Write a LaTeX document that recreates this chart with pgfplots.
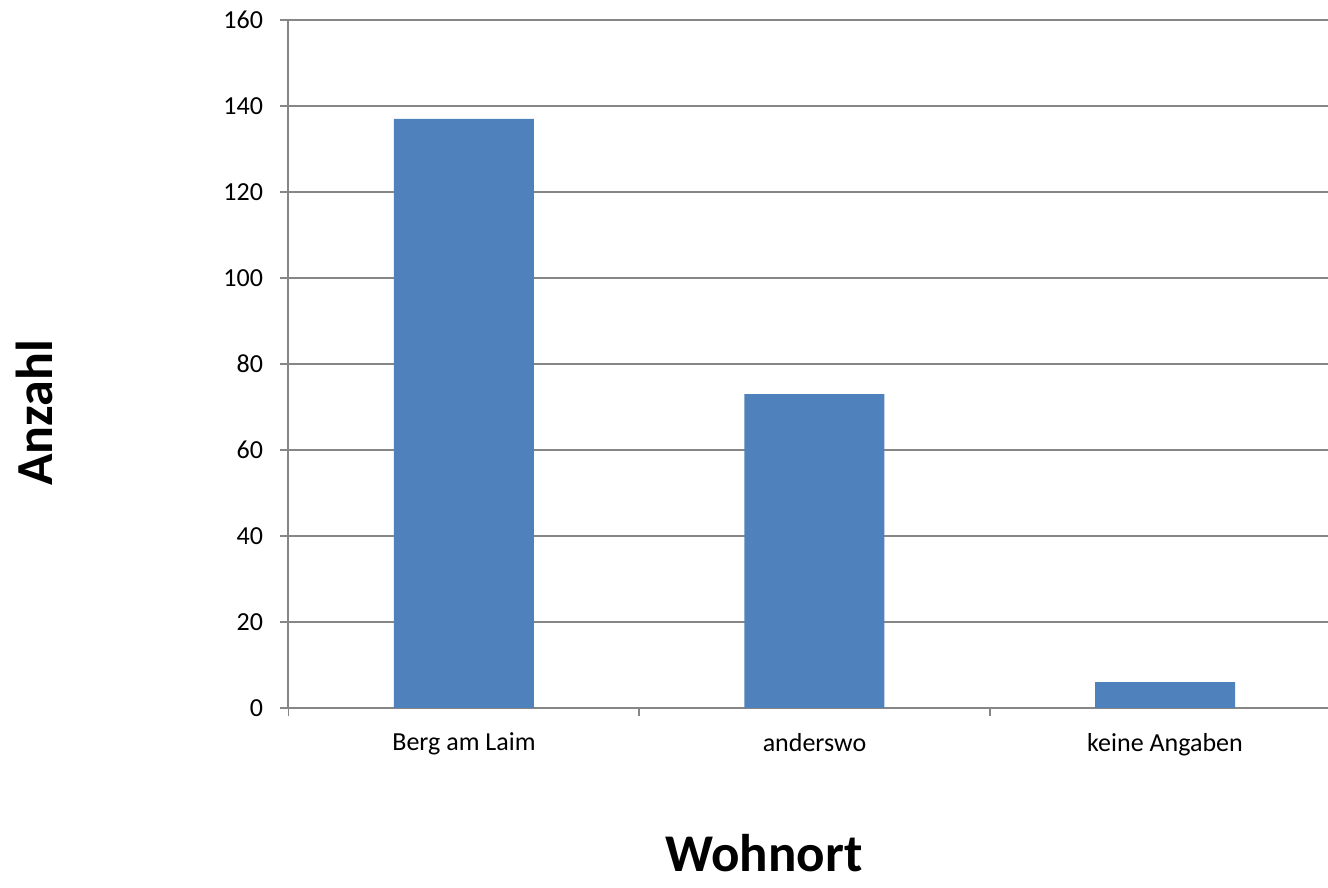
\documentclass[border=0pt]{standalone}
\usepackage{fontspec}
\setmainfont{Carlito}
\usepackage{pgfplots}
\pgfplotsset{compat=1.18}
\definecolor{barblue}{HTML}{4F81BD}
\definecolor{gridgray}{HTML}{868686}
\begin{document}
\begin{tikzpicture}
\begin{axis}[
  scale only axis,
  width=520pt, height=344pt,
  xmin=-0.502, xmax=2.465,
  ymin=0, ymax=160,
  ytick distance=20,
  ymajorgrids,
  grid style={gridgray, line width=0.75pt},
  axis line style={gridgray, line width=0.75pt},
  axis x line*=bottom,
  axis y line*=left,
  xtick={0,1,2},
  xticklabels={Berg am Laim, anderswo, keine Angaben},
  minor xtick={-0.5,0.5,1.5},
  tick align=outside,
  major tick length=4pt,
  minor tick length=4pt,
  major x tick style={draw=none},
  tick style={gridgray, line width=0.75pt},
  every tick label/.append style={font=\fontsize{13}{15.6}\selectfont, text=black},
  /pgf/number format/assume math mode=true,
  xticklabel style={yshift=-5pt},
  yticklabel style={xshift=-5pt},
  ybar, bar width=70pt,
  clip=false,
]
\addplot[fill=barblue, draw=none] coordinates {(0,137) (1,73) (2,6)};
\coordinate (bl) at (rel axis cs:0,0);
\end{axis}
\path (bl) ++(238pt,-82pt) node[anchor=base, inner sep=0pt, font=\bfseries\fontsize{26.5}{30}\selectfont] {Wohnort};
\path (bl) ++(-117.5pt,147.5pt) node[rotate=90, anchor=base, inner sep=0pt, font=\bfseries\fontsize{26}{30}\selectfont] {Anzahl};
\pgfresetboundingbox
\path (bl) ++(-144pt,-90pt) rectangle ++(664pt,444pt);
\end{tikzpicture}
\end{document}
